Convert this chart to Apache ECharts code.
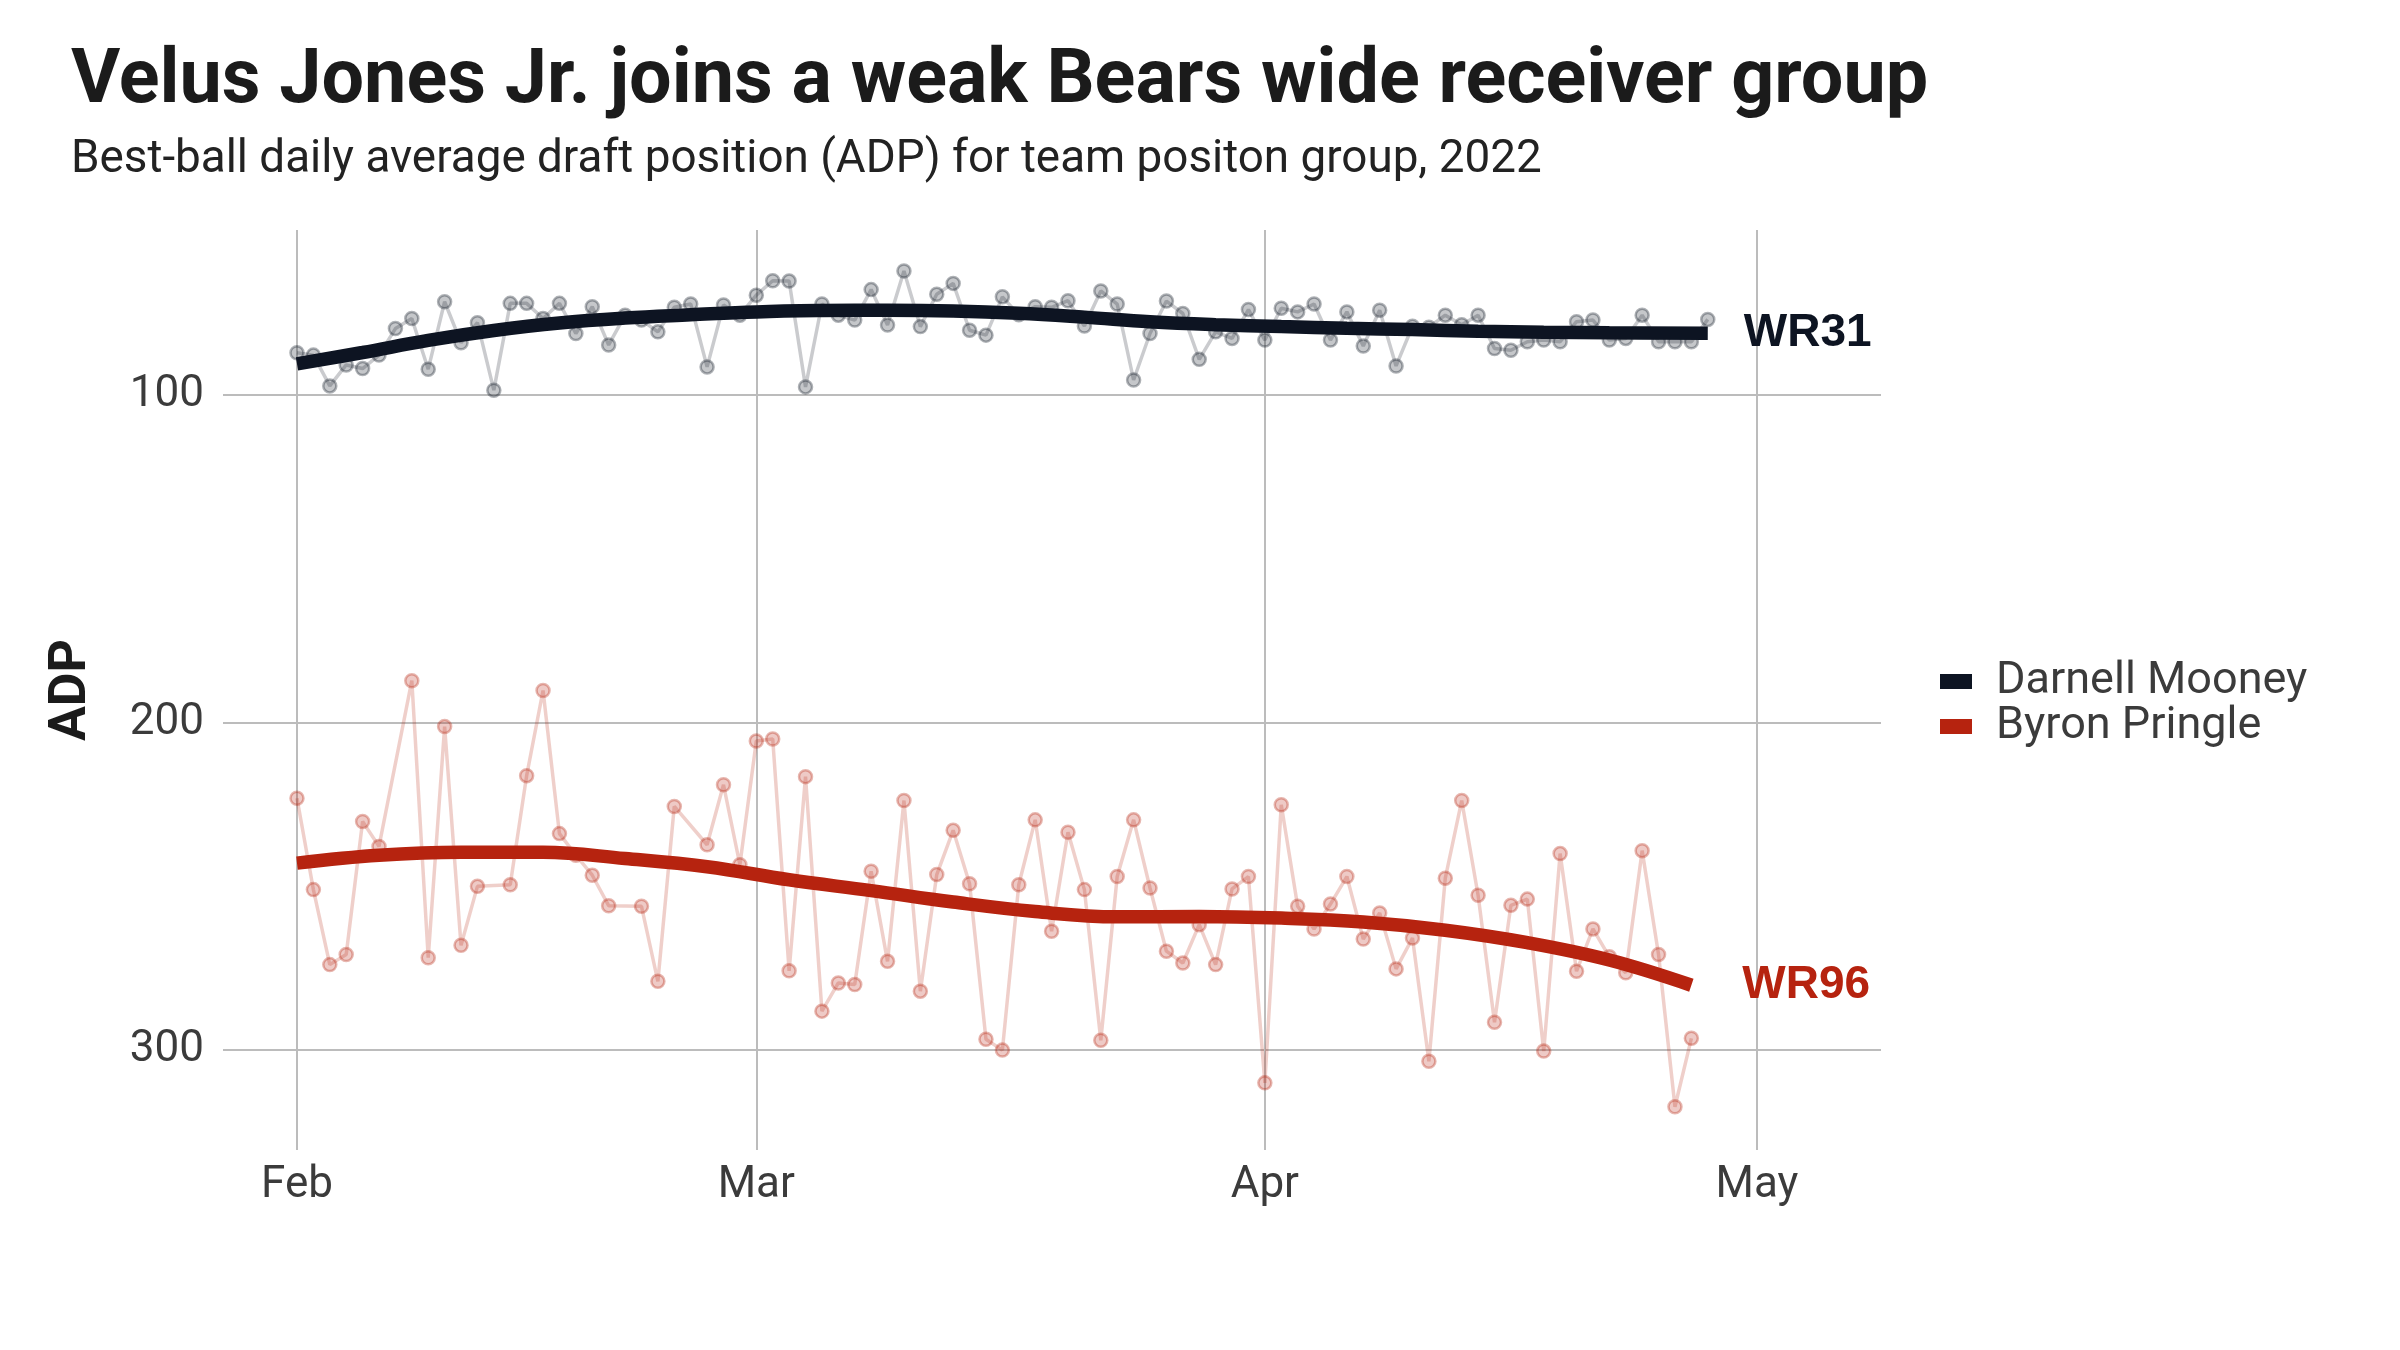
<!DOCTYPE html>
<html><head><meta charset="utf-8">
<script src="https://cdn.jsdelivr.net/npm/echarts@6/dist/echarts.min.js"></script>
<style>html,body{margin:0;padding:0;background:#fff}#c{width:2400px;height:1350px}</style>
</head><body><div id="c"></div>
<script>
// x values: days since 2022-02-01
const days = Array.from({length: 87}, (_, i) => i);

const mooneyADP = [
  87.1, 87.8, 97.2, 90.8, 91.9, 87.8, 79.7, 76.6, 92.1, 71.5,
  84.0, 77.9, 98.5, 72.0, 72.0, 76.6, 72.0, 81.2, 73.0, 84.7,
  75.6, 77.1, 80.7, 73.2, 72.2, 91.4, 72.5, 75.6, 69.5, 65.1,
  65.2, 97.5, 72.2, 75.6, 77.1, 67.8, 78.6, 62.1, 79.1, 69.2,
  65.9, 80.2, 81.7, 70.0, 75.5, 73.0, 73.2, 71.2, 78.9, 68.2,
  72.2, 95.4, 81.2, 71.3, 75.1, 89.1, 80.7, 82.7, 73.9, 83.2,
  73.5, 74.6, 72.2, 83.2, 74.6, 85.0, 74.1, 91.1, 79.0, 79.3,
  75.6, 78.5, 75.6, 85.8, 86.3, 83.7, 83.2, 83.7, 77.6, 77.1,
  83.2, 82.7, 75.6, 83.7, 83.7, 83.7, 76.9
];

const pringleADP = [
  223.1, 251.0, 273.9, 270.8, 230.2, 237.8, null, 187.2, 271.8, 201.2,
  268.0, 250.0, null, 249.5, 216.2, 190.2, 233.9, 240.5, 246.6, 255.9,
  null, 256.1, 279.0, 225.6, null, 237.3, 219.0, 243.4, 205.6, 205.0,
  275.8, 216.5, 288.1, 279.5, 280.0, 245.4, 272.9, 223.8, 282.0, 246.4,
  232.9, 249.2, 296.7, 300.0, 249.5, 229.7, 263.7, 233.5, 251.0, 297.0,
  247.0, 229.7, 250.5, 269.8, 273.4, 261.7, 273.9, 250.8, 247.0, 310.0,
  225.1, 256.1, 263.0, 255.4, 247.0, 266.1, 258.1, 275.2, 265.8, 303.4,
  247.5, 223.8, 252.7, 291.5, 255.8, 253.9, 300.3, 240.0, 275.9, 263.0,
  271.5, 276.4, 239.1, 270.8, 317.3, 296.4, null
];

// smoothed trend
const mooneyTrendDays = [0, 4, 8, 12, 16, 20, 24, 28, 32, 36, 40, 44, 48, 52, 56, 60, 64, 68, 72, 76, 80, 86];
const mooneyTrend     = [90.5, 87.0, 83.3, 80.3, 78.0, 76.5, 75.5, 74.6, 74.2, 74.1, 74.3, 75.0, 76.2, 77.6, 78.5, 79.1, 79.6, 80.0, 80.5, 80.8, 81.0, 81.1];
const pringleTrendDays = [0, 5, 10, 15, 20, 25, 30, 35, 40, 45, 50, 55, 60, 65, 70, 75, 80, 85];
const pringleTrend     = [242.9, 240.5, 239.6, 239.6, 241.5, 244.0, 248.0, 251.3, 254.8, 257.7, 259.3, 259.2, 259.7, 260.9, 263.4, 267.2, 272.5, 280.2];

const monthTickDays = [0, 28, 59, 89];
const monthTickLabels = ['Feb', 'Mar', 'Apr', 'May'];
const adpTicks = [100, 200, 300];
const players = ['Darnell Mooney', 'Byron Pringle'];
const endLabels = ['WR31', 'WR96'];

const titleText = 'Velus Jones Jr. joins a weak Bears wide receiver group';
const subtitleText = 'Best-ball daily average draft position (ADP) for team positon group, 2022';

const navy = '#0d1422', red = '#b6230f';
const navyA = a => 'rgba(13,20,34,' + a + ')';
const redA = a => 'rgba(182,35,15,' + a + ')';

function pairs(xs, ys) { return xs.map((x, i) => [x, ys[i] == null ? '-' : ys[i]]); }

function dailySeries(name, data, fn) {
  return {
    name: name, type: 'line', data: data, connectNulls: true,
    symbol: 'circle', symbolSize: 13, showAllSymbol: true, silent: true, z: 2,
    lineStyle: {color: fn(0.22), width: 3.5},
    itemStyle: {color: fn(0.24), borderColor: fn(0.33), borderWidth: 2.5},
    emphasis: {disabled: true}
  };
}
function trendSeries(name, data, color, label, dist) {
  return {
    name: name, type: 'line', data: data, smooth: 0.4, symbol: 'none', z: 5, silent: true,
    lineStyle: {color: color, width: 13.5, cap: 'butt'},
    itemStyle: {color: color},
    endLabel: {show: true, formatter: label, distance: dist, color: color,
      fontFamily: 'Liberation Sans', fontWeight: 'bold', fontSize: 46},
    emphasis: {disabled: true}
  };
}

const chart = echarts.init(document.getElementById('c'), null, {renderer: 'canvas'});
chart.setOption({
  animation: false,
  backgroundColor: '#ffffff',
  title: [
    {text: titleText, left: 71, top: 45, padding: 0,
     textStyle: {fontFamily: 'Roboto', fontWeight: 'bold', fontSize: 75.5, lineHeight: 75.5, color: '#1b1b1b'}},
    {text: subtitleText, left: 71, top: 138, padding: 0,
     textStyle: {fontFamily: 'Roboto', fontWeight: 'normal', fontSize: 45.8, lineHeight: 45.8, color: '#222222'}}
  ],
  legend: {
    data: players, orient: 'vertical', left: 1940, top: 659, padding: 0,
    icon: 'rect', itemWidth: 32, itemHeight: 15, itemGap: 0,
    textStyle: {fontFamily: 'Roboto', fontSize: 45, lineHeight: 42.5, color: '#3b3b3b', padding: [0, 0, 0, 19]}
  },
  grid: {left: 223, right: 519, top: 230, bottom: 200, containLabel: false},
  xAxis: {
    type: 'value', min: -4.51, max: 96.56,
    axisLine: {show: false},
    axisTick: {show: false, customValues: monthTickDays},
    axisLabel: {customValues: monthTickDays, formatter: v => monthTickLabels[monthTickDays.indexOf(v)],
      fontFamily: 'Roboto', fontSize: 44, color: '#3b3b3b', margin: 14},
    splitLine: {show: true, lineStyle: {color: '#bcbcbc', width: 2}}
  },
  yAxis: {
    type: 'value', inverse: true, min: 49.6, max: 330.5,
    name: 'ADP', nameLocation: 'middle', nameGap: 125, nameRotate: 90,
    nameTextStyle: {fontFamily: 'Roboto', fontWeight: 'bold', fontSize: 52, color: '#1b1b1b'},
    axisLine: {show: false},
    axisTick: {show: false, customValues: adpTicks},
    axisLabel: {customValues: adpTicks, fontFamily: 'Roboto', fontSize: 44, color: '#3b3b3b', margin: 19},
    splitLine: {show: true, lineStyle: {color: '#bcbcbc', width: 2}}
  },
  series: [
    dailySeries('Mooney daily', pairs(days, mooneyADP), navyA),
    dailySeries('Pringle daily', pairs(days, pringleADP), redA),
    trendSeries(players[0], pairs(mooneyTrendDays, mooneyTrend), navy, endLabels[0], 36),
    trendSeries(players[1], pairs(pringleTrendDays, pringleTrend), red, endLabels[1], 51)
  ]
});
</script>
</body></html>
